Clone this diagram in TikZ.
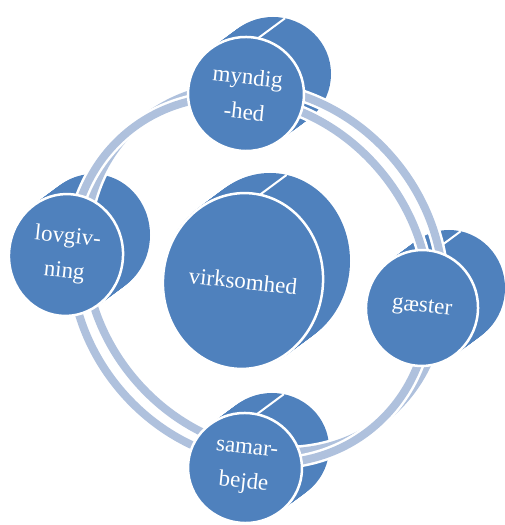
\documentclass[tikz,border=0pt]{standalone}
\usepackage{fontspec}
\setmainfont{Liberation Serif}
\usetikzlibrary{shapes.geometric,calc}

\definecolor{cylblue}{HTML}{4F81BD}
\definecolor{ringblue}{HTML}{AFC1DD}

\tikzset{
  face/.style={ellipse, fill=cylblue, draw=white, line width=2.5pt, text=white,
    inner sep=0pt, align=center, font=\fontsize{23}{35}\selectfont, rotate=-6},
  ringline/.style={draw=ringblue, line width=8pt},
  ringedge/.style={draw=white, line width=13pt},
  seam/.style={draw=white, line width=2pt}
}

\begin{document}
\begin{tikzpicture}[x=1pt, y=1pt]
  \useasboundingbox (0,0) rectangle (505,525);

  % where the front faces sit
  \coordinate (pvirk) at (243,244);
  \coordinate (pmynd) at (246,431);
  \coordinate (plovg) at (66,270);
  \coordinate (pgaest) at (422,217);
  \coordinate (psamar) at (245,57);
  \coordinate (hub) at (250,245);
  \coordinate (hubback) at (264,256);

  % depth of each cylinder
  \foreach \c/\rx/\ry in {pvirk/80/88, pmynd/58/57, plovg/57/61, pgaest/56/58, psamar/57/55} {
    \foreach \k in {0,...,20}
      \fill[cylblue] ($(\c)+(\k*1.35,\k)$) ellipse [x radius=\rx, y radius=\ry];
    \draw[seam] ($(\c)+({\rx*cos(78)},{\ry*sin(78)})$) -- ++(27,20);
  }

  % the ring, back and front
  \draw[ringedge, rotate around={130:(hubback)}] (hubback) ellipse [x radius=192, y radius=170];
  \draw[ringline, rotate around={130:(hubback)}] (hubback) ellipse [x radius=192, y radius=170];
  \draw[ringedge, rotate around={130:(hub)}] (hub) ellipse [x radius=192, y radius=170];
  \draw[ringline, rotate around={130:(hub)}] (hub) ellipse [x radius=192, y radius=170];

  % front faces
  \node[face, minimum width=160pt, minimum height=176pt] (virk) at (pvirk) {virksomhed};
  \node[face, minimum width=116pt, minimum height=114pt] (mynd) at (pmynd) {myndig\\-hed};
  \node[face, minimum width=114pt, minimum height=122pt] (lovg) at (plovg) {lovgiv-\\ning};
  \node[face, minimum width=112pt, minimum height=116pt] (gaest) at (pgaest) {gæster};
  \node[face, minimum width=114pt, minimum height=110pt] (samar) at (psamar) {samar-\\bejde};
\end{tikzpicture}
\end{document}
